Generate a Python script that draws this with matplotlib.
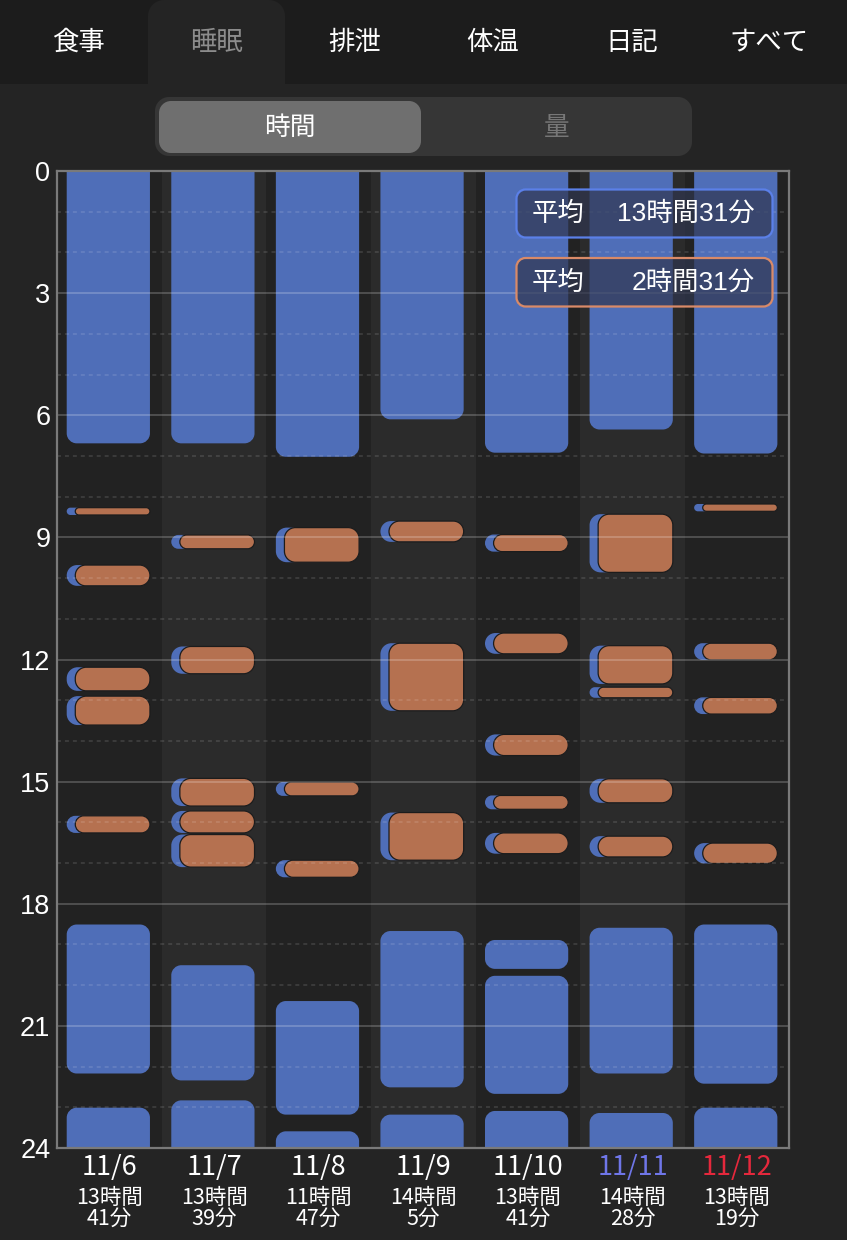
import matplotlib
matplotlib.use('Agg')
import matplotlib.pyplot as plt
from matplotlib.patches import PathPatch, Rectangle
from matplotlib.path import Path

plt.rcParams['font.family'] = ['Noto Sans CJK JP', 'DejaVu Sans']

# ---------------- data ----------------
dates = ['11/6', '11/7', '11/8', '11/9', '11/10', '11/11', '11/12']
date_colors = ['#ffffff', '#ffffff', '#ffffff', '#ffffff', '#ffffff', '#6f76e8', '#e5283c']
total_hours = [13, 13, 11, 14, 13, 14, 13]
total_minutes = [41, 39, 47, 5, 41, 28, 19]

# main sleep segments (hour of day start, end) per day
sleep_segments = [
    [(0, 6.69), (18.51, 22.17), (23.01, 24)],
    [(0, 6.69), (19.51, 22.34), (22.83, 24)],
    [(0, 7.02), (20.39, 23.18), (23.59, 24)],
    [(0, 6.10), (18.67, 22.51), (23.18, 24)],
    [(0, 6.92), (18.89, 19.60), (19.77, 22.67), (23.09, 24)],
    [(0, 6.35), (18.59, 22.17), (23.14, 24)],
    [(0, 6.94), (18.51, 22.42), (23.01, 24)],
]
# nap segments (drawn orange over blue)
nap_segments = [
    [(8.27, 8.45), (9.68, 10.19), (12.19, 12.77), (12.90, 13.61), (15.84, 16.26)],
    [(8.94, 9.28), (11.68, 12.35), (14.92, 15.60), (15.72, 16.26), (16.30, 17.10)],
    [(8.76, 9.61), (15.01, 15.35), (16.93, 17.35)],
    [(8.60, 9.11), (11.60, 13.26), (15.76, 16.93)],
    [(8.93, 9.35), (11.35, 11.86), (13.84, 14.36), (15.34, 15.68), (16.26, 16.77)],
    [(8.43, 9.86), (11.66, 12.60), (12.68, 12.94), (14.93, 15.52), (16.34, 16.85)],
    [(8.18, 8.36), (11.60, 12.01), (12.93, 13.34), (16.51, 17.01)],
]
y_ticks = [0, 3, 6, 9, 12, 15, 18, 21, 24]
avg_sleep = (13, 31)
avg_nap = (2, 31)
tabs = ['食事', '睡眠', '排泄', '体温', '日記', 'すべて']
selected_tab = 1
segments_ctrl = ['時間', '量']

# ---------------- style ----------------
W, H = 847, 1240
BODY = '#242424'
TABBAR = '#1c1c1c'
AX_DARK = '#222222'
AX_LIGHT = '#2b2b2b'
BLUE = '#4f6eb8'
ORANGE = '#b57150'
NUM_FONT = ['Liberation Sans', 'Noto Sans CJK JP']

fig = plt.figure(figsize=(W / 100, H / 100), dpi=100)
fig.patch.set_facecolor(BODY)

K = 0.5523


def rounded_path(x0, y0, x1, y1, rx, ry):
    verts = [
        (x0 + rx, y0), (x1 - rx, y0),
        (x1 - rx + K * rx, y0), (x1, y0 + ry - K * ry), (x1, y0 + ry),
        (x1, y1 - ry),
        (x1, y1 - ry + K * ry), (x1 - rx + K * rx, y1), (x1 - rx, y1),
        (x0 + rx, y1),
        (x0 + rx - K * rx, y1), (x0, y1 - ry + K * ry), (x0, y1 - ry),
        (x0, y0 + ry),
        (x0, y0 + ry - K * ry), (x0 + rx - K * rx, y0), (x0 + rx, y0),
        (x0 + rx, y0),
    ]
    codes = ([Path.MOVETO, Path.LINETO] + [Path.CURVE4] * 3 + [Path.LINETO]
             + [Path.CURVE4] * 3 + [Path.LINETO] + [Path.CURVE4] * 3
             + [Path.LINETO] + [Path.CURVE4] * 3 + [Path.CLOSEPOLY])
    return Path(verts, codes)


def rrect_px(x0, y0, x1, y1, r, **kw):
    p = PathPatch(rounded_path(x0 / W, 1 - y1 / H, x1 / W, 1 - y0 / H, r / W, r / H),
                  transform=fig.transFigure, **kw)
    fig.add_artist(p)
    return p


# tab bar
fig.add_artist(Rectangle((0, 1 - 84 / H), 1, 84 / H, transform=fig.transFigure,
                         facecolor=TABBAR, edgecolor='none', zorder=0))
tab_x = [78, 216, 355, 493, 632, 769]
rrect_px(148, 0, 285, 110, 16, facecolor=BODY, edgecolor='none', zorder=1)
fig.add_artist(Rectangle((0, 1 - 100 / H), 1, 16 / H, transform=fig.transFigure,
                         facecolor=BODY, edgecolor='none', zorder=1))
for i, t in enumerate(tabs):
    fig.text(tab_x[i] / W, 1 - 42 / H, t, ha='center', va='center', fontsize=19,
             color='#8c8c8c' if i == selected_tab else '#ffffff', zorder=3)

# segmented control
rrect_px(155, 97, 692, 156, 14, facecolor='#363636', edgecolor='none', zorder=2)
rrect_px(159, 101, 421, 153, 12, facecolor='#6f6f6f', edgecolor='none', zorder=3)
fig.text(290 / W, 1 - 128 / H, segments_ctrl[0], ha='center', va='center',
         fontsize=18.5, color='#ffffff', zorder=4)
fig.text(557 / W, 1 - 128 / H, segments_ctrl[1], ha='center', va='center',
         fontsize=18.5, color='#777777', zorder=4)

# ---------------- chart ----------------
ax_l, ax_r, ax_t, ax_b = 57.3, 789.3, 171, 1148
ax = fig.add_axes([ax_l / W, 1 - ax_b / H, (ax_r - ax_l) / W, (ax_b - ax_t) / H])
ax.set_facecolor(AX_DARK)
n = len(dates)
ax.set_xlim(-0.5, n - 0.5)
ax.set_ylim(24, 0)

px_x = (ax_r - ax_l) / n
px_y = (ax_b - ax_t) / 24.0

for i in range(n):
    if i % 2 == 1:
        ax.axvspan(i - 0.5, i + 0.5, color=AX_LIGHT, zorder=0, lw=0)

bar_left = -0.41
bar_w = 0.796
nap_off = 0.082


def rbar(x, y0, y1, w, color, r_px=10, z=2, **kw):
    y0d, y1d = y0, y1
    if y0 <= 0:
        y0d = -0.5
    if y1 >= 24:
        y1d = 24.5
    h = y1d - y0d
    r = min(r_px, h * px_y / 2, w * px_x / 2)
    p = PathPatch(rounded_path(x, y0d, x + w, y1d, r / px_x, r / px_y),
                  facecolor=color, zorder=z, **kw)
    ax.add_patch(p)


for i in range(n):
    for (s, e) in sleep_segments[i]:
        rbar(i + bar_left, s, e, bar_w, BLUE, r_px=10, z=2, edgecolor='none')
    for (s, e) in nap_segments[i]:
        rbar(i + bar_left, s, e, bar_w, BLUE, r_px=11, z=3, edgecolor='none')
        rbar(i + bar_left + nap_off, s, e, bar_w - nap_off, ORANGE, r_px=11, z=4,
             edgecolor='#1c1c1c', linewidth=0.9)

for h in range(0, 25):
    if h % 3 == 0:
        ax.axhline(h, color='#ffffff', alpha=0.2, lw=1.4, zorder=5)
    else:
        ax.axhline(h, color='#ffffff', alpha=0.12, lw=1.3, ls=(0, (2.2, 2.2)), zorder=5)

for sp in ax.spines.values():
    sp.set_color('#7a7a7a')
    sp.set_linewidth(1.6)
    sp.set_zorder(6)

ax.set_xticks([])
ax.set_yticks(y_ticks)
ax.set_yticklabels([str(v) for v in y_ticks], fontsize=19.5, color='#ffffff',
                   family=NUM_FONT)
ax.tick_params(axis='y', length=0, pad=5)

tr = ax.get_xaxis_transform()
for i in range(n):
    ax.text(i, -0.0195, dates[i], transform=tr, ha='center', va='center',
            fontsize=19.5, color=date_colors[i], clip_on=False)
    ax.text(i, -0.0512, f'{total_hours[i]}時間', transform=tr, ha='center', va='center',
            fontsize=15.5, color='#ffffff', clip_on=False)
    ax.text(i, -0.0720, f'{total_minutes[i]}分', transform=tr, ha='center', va='center',
            fontsize=15.5, color='#ffffff', clip_on=False)

# average boxes
rrect_px(516.5, 189.5, 772.5, 237.5, 9, facecolor=(0.19, 0.21, 0.31, 0.7),
         edgecolor='#5b80e8', linewidth=1.6, zorder=10)
rrect_px(516.5, 258, 772.5, 306.5, 9, facecolor=(0.19, 0.21, 0.31, 0.7),
         edgecolor='#d98a68', linewidth=1.6, zorder=10)
fig.text(558 / W, 1 - 213.5 / H, '平均', ha='center', va='center', fontsize=19,
         color='#ffffff', zorder=11)
fig.text(755 / W, 1 - 213.5 / H, f'{avg_sleep[0]}時間{avg_sleep[1]}分', ha='right',
         va='center', fontsize=19, color='#ffffff', zorder=11, family=NUM_FONT)
fig.text(558 / W, 1 - 282.5 / H, '平均', ha='center', va='center', fontsize=19,
         color='#ffffff', zorder=11)
fig.text(755 / W, 1 - 282.5 / H, f'{avg_nap[0]}時間{avg_nap[1]}分', ha='right',
         va='center', fontsize=19, color='#ffffff', zorder=11, family=NUM_FONT)

fig.savefig('out.png', dpi=100, facecolor=fig.get_facecolor())
